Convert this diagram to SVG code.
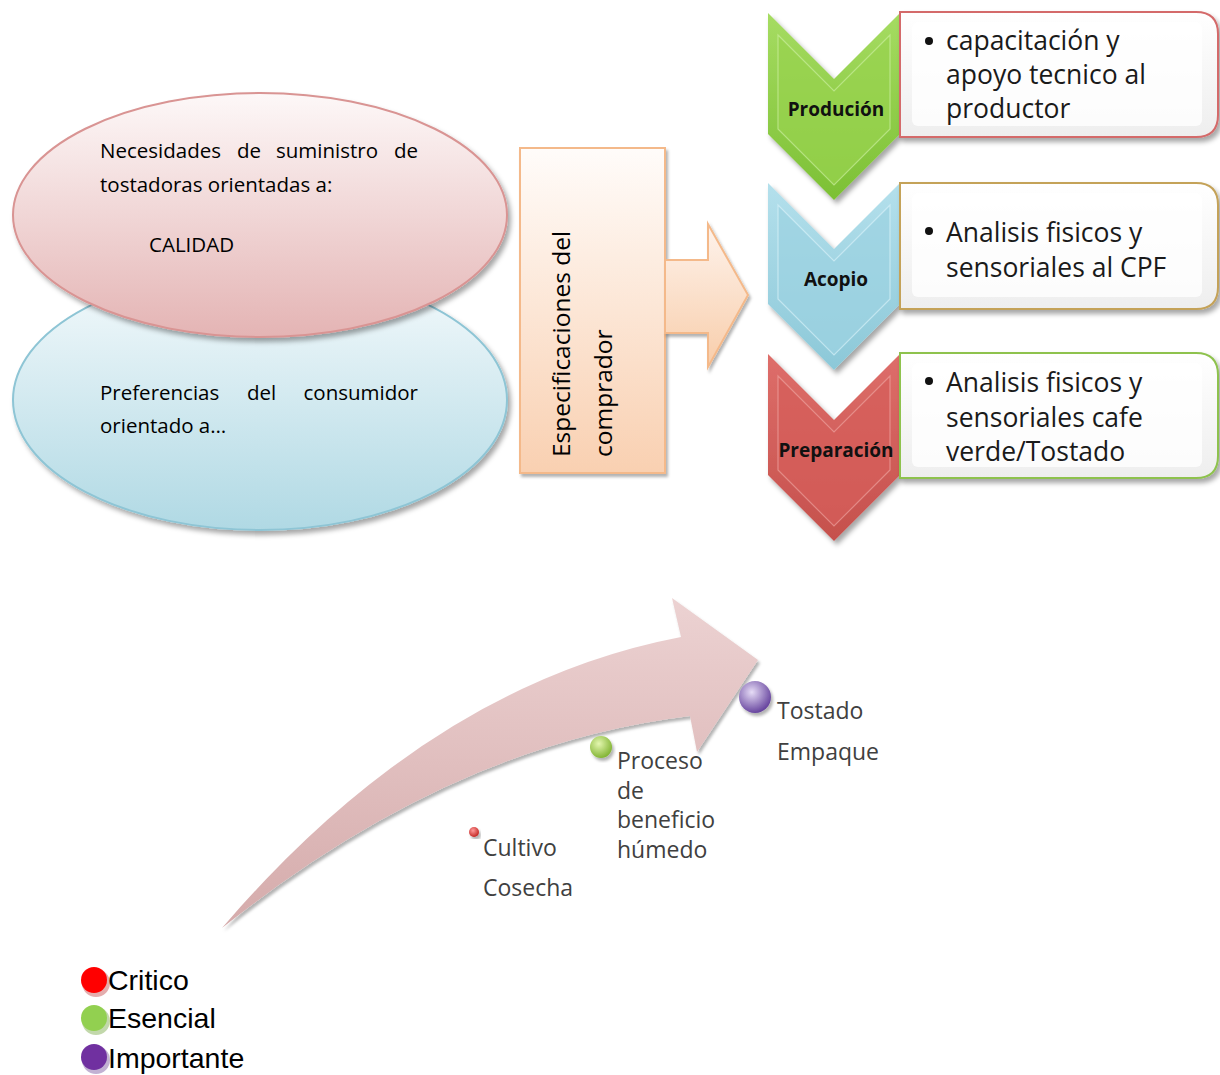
<svg xmlns="http://www.w3.org/2000/svg" width="1220" height="1075" viewBox="0 0 1220 1075">
<defs>
<style>
.cal{font-family:"Open Sans","Noto Sans","Liberation Sans",sans-serif;}
.ell{font-size:20.5px;fill:#000;}
.box{font-size:26.5px;fill:#1a1a1a;}
.lab{font-size:19px;font-weight:bold;fill:#111;text-anchor:middle;}
.stage{font-size:23px;fill:#404040;}
.leg{font-family:"Liberation Sans",Arial,sans-serif;font-size:28.5px;fill:#000;}
</style>
<filter id="sh" x="-10%" y="-10%" width="125%" height="130%">
<feDropShadow dx="3" dy="4" stdDeviation="2.5" flood-color="#000" flood-opacity="0.35"/>
</filter>
<filter id="sh2" x="-10%" y="-10%" width="125%" height="130%">
<feDropShadow dx="2" dy="3" stdDeviation="1.5" flood-color="#000" flood-opacity="0.3"/>
</filter>
<linearGradient id="gPink" x1="0" y1="0" x2="0" y2="1">
<stop offset="0" stop-color="#fdf8f8"/><stop offset="1" stop-color="#e4b4b4"/>
</linearGradient>
<linearGradient id="gBlue" x1="0" y1="0" x2="0" y2="1">
<stop offset="0" stop-color="#f5fafc"/><stop offset="1" stop-color="#b0d9e4"/>
</linearGradient>
<linearGradient id="gPeach" x1="0" y1="0" x2="0" y2="1">
<stop offset="0" stop-color="#fffcfa"/><stop offset="1" stop-color="#f9d0b1"/>
</linearGradient>
<linearGradient id="gArrow" x1="0" y1="0" x2="0" y2="1">
<stop offset="0" stop-color="#fef3ec"/><stop offset="1" stop-color="#f8cdaa"/>
</linearGradient>
<linearGradient id="gCurve" x1="0" y1="0" x2="0" y2="1">
<stop offset="0" stop-color="#ecd2d2"/><stop offset="1" stop-color="#d5abab"/>
</linearGradient>
<linearGradient id="gGreen" x1="0" y1="0" x2="0" y2="1">
<stop offset="0" stop-color="#a6dc62"/><stop offset="1" stop-color="#7cc034"/>
</linearGradient>
<linearGradient id="gBlueC" x1="0" y1="0" x2="0" y2="1">
<stop offset="0" stop-color="#b4e0ec"/><stop offset="1" stop-color="#8cc8d8"/>
</linearGradient>
<linearGradient id="gRed" x1="0" y1="0" x2="0" y2="1">
<stop offset="0" stop-color="#de6e6a"/><stop offset="1" stop-color="#c5504c"/>
</linearGradient>
<linearGradient id="gBox" x1="0" y1="0" x2="0" y2="1">
<stop offset="0" stop-color="#ffffff"/><stop offset="1" stop-color="#eeeeee"/>
</linearGradient>
<radialGradient id="dRed" cx="0.4" cy="0.35" r="0.7">
<stop offset="0" stop-color="#ff9a9a"/><stop offset="1" stop-color="#c0201c"/>
</radialGradient>
<radialGradient id="dGreen" cx="0.4" cy="0.35" r="0.7">
<stop offset="0" stop-color="#e4f7b0"/><stop offset="1" stop-color="#7cb02c"/>
</radialGradient>
<radialGradient id="dPurple" cx="0.4" cy="0.35" r="0.7">
<stop offset="0" stop-color="#e6dcf6"/><stop offset="1" stop-color="#5e3a98"/>
</radialGradient>
<path id="chev" d="M0,0 L66,66 L132,0 L132,121 L66,187 L0,121 Z"/>
<path id="chevIn" d="M10,22 L66,78 L122,22 L122,116 L66,172 L10,116 Z"/>
</defs>

<g id="ellipse-preferencias">
<ellipse cx="260" cy="400" rx="247" ry="130" fill="url(#gBlue)" stroke="#8ec5d5" stroke-width="2" filter="url(#sh)"/>
<text class="cal ell" y="400"><tspan x="100">Preferencias</tspan><tspan x="247">del</tspan><tspan x="418" text-anchor="end">consumidor</tspan></text>
<text class="cal ell" x="100" y="433">orientado a…</text>
</g>

<g id="ellipse-necesidades">
<ellipse cx="260" cy="215" rx="247" ry="122" fill="url(#gPink)" stroke="#d99493" stroke-width="2" filter="url(#sh)"/>
<text class="cal ell" y="158"><tspan x="100">Necesidades</tspan><tspan x="237">de</tspan><tspan x="276">suministro</tspan><tspan x="418" text-anchor="end">de</tspan></text>
<text class="cal ell" x="100" y="192">tostadoras orientadas a:</text>
<text class="cal ell" x="149" y="252">CALIDAD</text>
</g>

<g id="especificaciones">
<rect x="520" y="148" width="145" height="325" fill="url(#gPeach)" stroke="#f4b98a" stroke-width="2" filter="url(#sh2)"/>
<text class="cal" font-size="24.5" fill="#000" transform="translate(570,457) rotate(-90)">Especificaciones del</text>
<text class="cal" font-size="24.5" fill="#000" transform="translate(612,457) rotate(-90)">comprador</text>
</g>

<g id="connectors">
<path d="M665,260 L708,260 L708,224 L748,295 L708,367 L708,333 L665,333 Z" fill="url(#gArrow)" stroke="#f4b98a" stroke-width="2" filter="url(#sh2)"/>
<path d="M222,928 Q430,685 681,637 L672,598 L758,660 L697,752 L690,716 Q450,745 222,928 Z" fill="url(#gCurve)" filter="url(#sh2)"/>
</g>

<g id="produccion">
<use href="#chev" transform="translate(768,13)" fill="url(#gGreen)" filter="url(#sh)"/>
<use href="#chevIn" transform="translate(768,13)" fill="#98d34e" stroke="#c6ec96" stroke-width="1.2" opacity="0.75"/>
<path d="M900,12 H1196 Q1218,12 1218,34 V115 Q1218,137 1196,137 H900 Z" fill="url(#gBox)" stroke="#d46a6a" stroke-width="2" filter="url(#sh)"/>
<rect x="912" y="22" width="290" height="104" rx="6" fill="#ffffff" opacity="0.8"/>
<text class="cal lab" x="836" y="116">Produción</text>
<circle cx="929" cy="41" r="4" fill="#111"/>
<text class="cal box" x="946" y="50">capacitación y</text>
<text class="cal box" x="946" y="84">apoyo tecnico al</text>
<text class="cal box" x="946" y="118">productor</text>
</g>

<g id="acopio">
<use href="#chev" transform="translate(768,183)" fill="url(#gBlueC)" filter="url(#sh)"/>
<use href="#chevIn" transform="translate(768,183)" fill="#9dd3e2" stroke="#d2eef6" stroke-width="1.2" opacity="0.75"/>
<path d="M900,183 H1196 Q1218,183 1218,205 V287 Q1218,309 1196,309 H900 Z" fill="url(#gBox)" stroke="#c4a258" stroke-width="2" filter="url(#sh)"/>
<rect x="912" y="193" width="290" height="104" rx="6" fill="#ffffff" opacity="0.8"/>
<text class="cal lab" x="836" y="286">Acopio</text>
<circle cx="929" cy="231" r="4" fill="#111"/>
<text class="cal box" x="946" y="242">Analisis fisicos y</text>
<text class="cal box" x="946" y="277">sensoriales al CPF</text>
</g>

<g id="preparacion">
<use href="#chev" transform="translate(768,354)" fill="url(#gRed)" filter="url(#sh)"/>
<use href="#chevIn" transform="translate(768,354)" fill="#d65e5a" stroke="#ec9c98" stroke-width="1.2" opacity="0.75"/>
<path d="M900,353 H1196 Q1218,353 1218,375 V456 Q1218,478 1196,478 H900 Z" fill="url(#gBox)" stroke="#8ec24e" stroke-width="2" filter="url(#sh)"/>
<rect x="912" y="363" width="290" height="104" rx="6" fill="#ffffff" opacity="0.8"/>
<text class="cal lab" x="836" y="457">Preparación</text>
<circle cx="929" cy="381" r="4" fill="#111"/>
<text class="cal box" x="946" y="392">Analisis fisicos y</text>
<text class="cal box" x="946" y="427">sensoriales cafe</text>
<text class="cal box" x="946" y="461">verde/Tostado</text>
</g>

<g id="stage-cultivo">
<circle cx="474" cy="832" r="5" fill="url(#dRed)" filter="url(#sh2)"/>
<text class="cal stage" x="483" y="856">Cultivo</text>
<text class="cal stage" x="483" y="896">Cosecha</text>
</g>

<g id="stage-proceso">
<circle cx="601" cy="747" r="11" fill="url(#dGreen)" filter="url(#sh2)"/>
<text class="cal stage" x="617" y="769">Proceso</text>
<text class="cal stage" x="617" y="799">de</text>
<text class="cal stage" x="617" y="828">beneficio</text>
<text class="cal stage" x="617" y="858">húmedo</text>
</g>

<g id="stage-tostado">
<circle cx="755" cy="697" r="16" fill="url(#dPurple)" filter="url(#sh2)"/>
<text class="cal stage" x="777" y="719">Tostado</text>
<text class="cal stage" x="777" y="760">Empaque</text>
</g>

<g id="legend">
<circle cx="96" cy="983" r="14" fill="#d88a8a" opacity="0.7"/>
<circle cx="94" cy="980" r="13" fill="#ff0000"/>
<text class="leg" x="108" y="990">Critico</text>
<circle cx="96" cy="1021" r="14" fill="#a8c888" opacity="0.7"/>
<circle cx="94" cy="1018" r="13" fill="#92d050"/>
<text class="leg" x="108" y="1028">Esencial</text>
<circle cx="96" cy="1060" r="14" fill="#a890c0" opacity="0.7"/>
<circle cx="94" cy="1057" r="13" fill="#7030a0"/>
<text class="leg" x="108" y="1068">Importante</text>
</g>
</svg>
